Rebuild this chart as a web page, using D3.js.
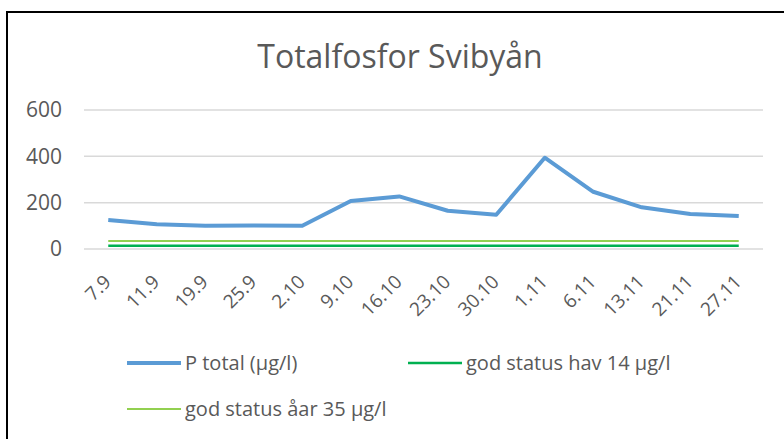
<!DOCTYPE html>
<html>
<head>
<meta charset="utf-8">
<script src="https://cdn.jsdelivr.net/npm/d3@7"></script>
<style>
  body { margin: 0; background: #fff; }
  svg text { font-family: "Open Sans", sans-serif; fill: #595959; }
</style>
</head>
<body>
<svg class="chart" width="784" height="439"></svg>
<script>
// data
const dates = ["7.9", "11.9", "19.9", "25.9", "2.10", "9.10", "16.10", "23.10", "30.10", "1.11", "6.11", "13.11", "21.11", "27.11"];
const pTotal = [125, 107, 100, 101, 100, 207, 227, 165, 148, 394, 247, 180, 151, 142];
const godHav = dates.map(() => 14);
const godAar = dates.map(() => 35);
const yTicks = [0, 200, 400, 600];

const seriesNames = ["P total (µg/l)", "god status hav 14 µg/l", "god status åar 35 µg/l"];
const seriesColors = ["#5B9BD5", "#00B050", "#92D050"];
const seriesWidths = [4, 2.5, 2];

let svg = d3.select("svg.chart"),
    margin = {top: 110, bottom: 190, left: 84, right: 21},
    width = svg.attr("width") - margin.left - margin.right,
    height = svg.attr("height") - margin.top - margin.bottom;

// outer border
svg.append("rect")
    .attr("x", 7)
    .attr("y", 12)
    .attr("width", 800)
    .attr("height", 450)
    .attr("fill", "none")
    .attr("stroke", "#000")
    .attr("stroke-width", 2);

// title
svg.append("text")
    .attr("x", 400)
    .attr("y", 68)
    .attr("text-anchor", "middle")
    .attr("font-size", "32px")
    .text("Totalfosfor Svibyån");

let g = svg.append("g")
    .attr("transform", "translate(" + margin.left + "," + margin.top + ")");

let xScale = d3.scaleBand()
    .range([0, width])
    .domain(dates);
let yScale = d3.scaleLinear()
    .range([height, 0])
    .domain([0, 600]);

// gridlines
g.selectAll(".grid")
    .data(yTicks)
    .join("line")
    .attr("class", "grid")
    .attr("x1", 0)
    .attr("x2", width)
    .attr("y1", d => yScale(d))
    .attr("y2", d => yScale(d))
    .attr("stroke", "#D9D9D9")
    .attr("stroke-width", 1.5);

// y axis
let yAxis = g.append("g")
    .call(d3.axisLeft(yScale).tickValues(yTicks).tickSize(0).tickPadding(22));
yAxis.select(".domain").remove();
yAxis.selectAll("text")
    .attr("font-size", "21px")
    .style("font-family", "'Open Sans', sans-serif")
    .attr("fill", "#595959");

// x axis
let xAxis = g.append("g")
    .attr("transform", "translate(0," + height + ")")
    .call(d3.axisBottom(xScale).tickSize(0).tickPadding(0));
xAxis.select(".domain").remove();
xAxis.selectAll("text")
    .attr("font-size", "19px")
    .style("font-family", "'Open Sans', sans-serif")
    .attr("fill", "#595959")
    .attr("text-anchor", "end")
    .attr("y", 0)
    .attr("dy", 0)
    .attr("transform", "translate(4,34) rotate(-45)");

let line = d3.line()
    .x((d, i) => xScale(dates[i]) + xScale.bandwidth() / 2)
    .y(d => yScale(d));

const allSeries = [pTotal, godHav, godAar];
allSeries.slice().reverse().forEach((s, j) => {
    let i = allSeries.length - 1 - j;
    g.append("path")
        .datum(s)
        .attr("fill", "none")
        .attr("stroke", seriesColors[i])
        .attr("stroke-width", seriesWidths[i])
        .attr("stroke-linejoin", "round")
        .attr("d", line);
});

// legend
const legendPos = [[127, 363], [408, 363], [127, 409]];
let legend = svg.append("g");
seriesNames.forEach((name, i) => {
    let lg = legend.append("g")
        .attr("transform", "translate(" + legendPos[i][0] + "," + legendPos[i][1] + ")");
    lg.append("line")
        .attr("x1", 0)
        .attr("x2", 54)
        .attr("stroke", seriesColors[i])
        .attr("stroke-width", seriesWidths[i]);
    lg.append("text")
        .attr("x", 58)
        .attr("dy", "0.35em")
        .attr("font-size", "20px")
        .text(name);
});
</script>
</body>
</html>
